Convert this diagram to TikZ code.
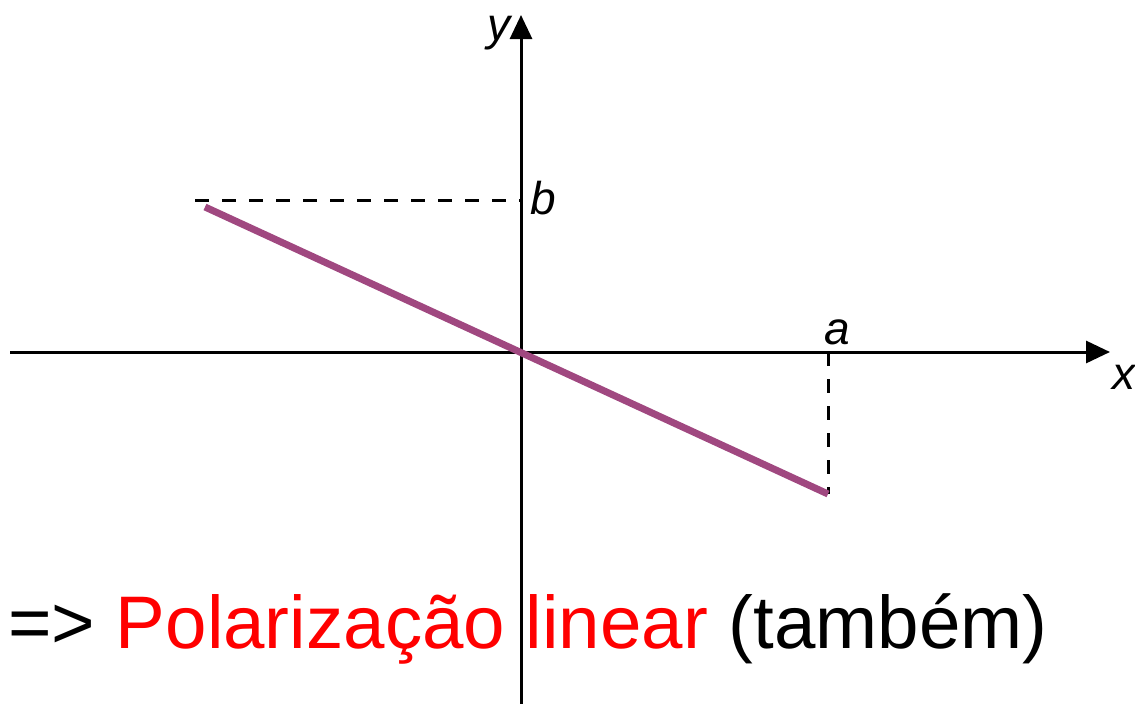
\documentclass[tikz,border=0pt]{standalone}
\usepackage{fontspec}
\setmainfont{Liberation Sans}
\usetikzlibrary{arrows.meta}
\definecolor{polcolor}{RGB}{160,72,128}
\definecolor{polred}{RGB}{255,0,0}

\begin{document}
\begin{tikzpicture}[x=1pt, y=-1pt, axis/.style = {line width=3pt, -{Triangle[length=24pt, width=22pt]}}, guide/.style = {line width=3pt, dash pattern=on 14pt off 13pt}, lbl/.style = {inner sep=0pt, font=\fontsize{46}{50}\selectfont\itshape}]
            \useasboundingbox (0,0) rectangle (1135,704);
            \coordinate (xl) at (10,352);
            \coordinate (xr) at (1110,352);
            \coordinate (yb) at (521,704);
            \coordinate (yt) at (521,15);
            \coordinate (bl) at (195,200);
            \coordinate (bb) at (521,200);
            \coordinate (aa) at (828,352);
            \coordinate (p1) at (205,207);
            \coordinate (p2) at (828,494);
            \draw[axis] (xl) -- (xr);
            \draw[axis] (yb) -- (yt);
            \draw[guide] (bl) -- (bb);
            \draw[guide] (aa) -- (p2);
            \draw[polcolor, line width=7pt] (p1) -- (p2);
            \node[lbl, anchor=base] (ylab) at (499,40) {y};
            \node[lbl, anchor=base] (blab) at (543,214) {b};
            \node[lbl, anchor=base] (alab) at (837,344) {a};
            \node[lbl, anchor=base] (xlab) at (1124,389) {x};
            \node[inner sep=0pt, anchor=base west, font=\fontsize{74.5}{88}\selectfont] (note) at (8,648) {=> \textcolor{polred}{Polarização linear} (também)};
        \end{tikzpicture}
\end{document}
